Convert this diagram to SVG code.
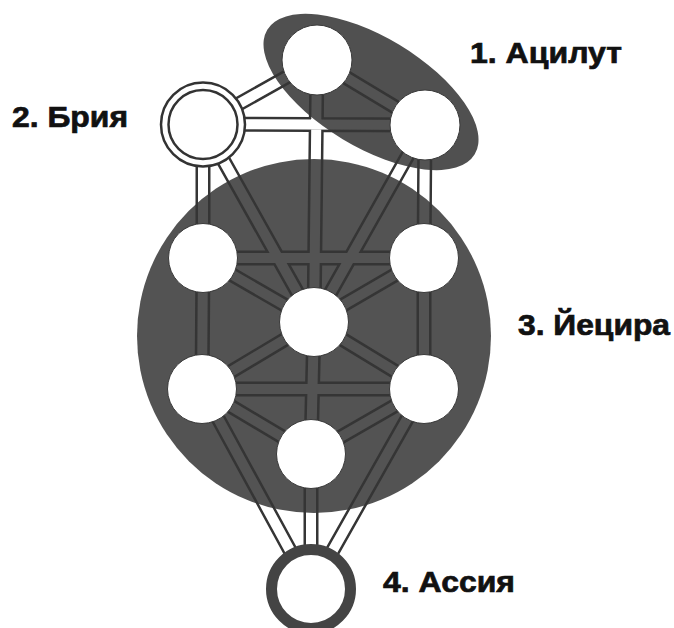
<svg xmlns="http://www.w3.org/2000/svg" xmlns:xlink="http://www.w3.org/1999/xlink" width="674" height="628" viewBox="0 0 674 628">
<style>
.lbl{font-family:"Liberation Sans",Arial,sans-serif;font-weight:bold;font-size:29px;fill:#111;stroke:#111;stroke-width:0.7}
.sf{fill:#fff;stroke:#3a3a3a;stroke-width:1}
.band-o{fill:none;stroke:#353535;stroke-width:15}
.band-g{fill:none;stroke:#535353;stroke-width:10}
.band-w{fill:none;stroke:#fff;stroke-width:10}
.ring{fill:#fff;stroke:#333;stroke-width:2.5}
</style>
<defs>
<path id="paths" d="M317 60L425 125 M317 60L203 124 M317 60L314 322 M425 125L203 124 M425 125L314 322 M425 125L424 258 M203 124L314 322 M203 124L203 258 M424 258L203 258 M424 258L314 322 M424 258L424 389 M203 258L314 322 M203 258L202 389 M314 322L424 389 M314 322L311 454 M314 322L202 389 M424 389L202 389 M424 389L311 454 M424 389L311 589 M202 389L311 454 M202 389L311 589 M311 454L311 589"/>
<mask id="outside" maskUnits="userSpaceOnUse" x="0" y="0" width="674" height="628">
<rect x="0" y="0" width="674" height="628" fill="#fff"/>
<circle cx="314" cy="336" r="177" fill="#000"/>
<ellipse cx="371" cy="92" rx="121" ry="55" transform="rotate(31 371 92)" fill="#000"/>
</mask>
</defs>
<rect width="674" height="628" fill="#fff"/>
<g id="world-yetzirah">
<circle cx="314" cy="336" r="177" fill="#535353"/>
</g>
<g id="world-atzilut">
<ellipse cx="371" cy="92" rx="121" ry="55" transform="rotate(31 371 92)" fill="#505050"/>
</g>
<g id="connectors">
<use xlink:href="#paths" class="band-o"/>
<use xlink:href="#paths" class="band-g"/>
<use xlink:href="#paths" class="band-w" mask="url(#outside)"/>
</g>
<g id="keter"><circle class="sf" cx="317" cy="60" r="35"/></g>
<g id="chokmah"><circle class="sf" cx="425" cy="125" r="35"/></g>
<g id="binah"><circle class="ring" cx="203" cy="124.5" r="42"/><circle class="ring" cx="203" cy="124.5" r="34.5"/></g>
<g id="chesed"><circle class="sf" cx="424" cy="258" r="34.5"/></g>
<g id="gevurah"><circle class="sf" cx="203" cy="258" r="34.5"/></g>
<g id="tiferet"><circle class="sf" cx="314" cy="322" r="34.5"/></g>
<g id="netzach"><circle class="sf" cx="424" cy="389" r="34.5"/></g>
<g id="hod"><circle class="sf" cx="202" cy="389" r="34.5"/></g>
<g id="yesod"><circle class="sf" cx="311" cy="454" r="34.5"/></g>
<g id="malkuth"><circle cx="311" cy="589" r="39.5" fill="#fff" stroke="#444" stroke-width="11"/></g>
<g id="labels">
<text class="lbl" x="470" y="63" textLength="152" lengthAdjust="spacingAndGlyphs">1. Ацилут</text>
<text class="lbl" x="12" y="127" textLength="116" lengthAdjust="spacingAndGlyphs">2. Брия</text>
<text class="lbl" x="518" y="335" textLength="152" lengthAdjust="spacingAndGlyphs">3. Йецира</text>
<text class="lbl" x="383" y="592" textLength="132" lengthAdjust="spacingAndGlyphs">4. Ассия</text>
</g>
</svg>
